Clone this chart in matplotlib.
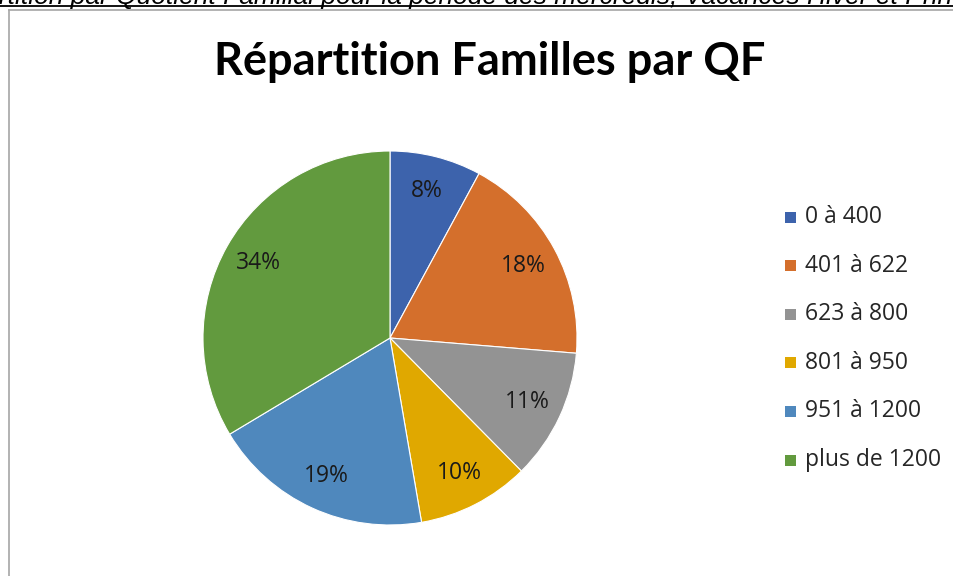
import matplotlib
matplotlib.use("Agg")
import matplotlib.pyplot as plt
from matplotlib.lines import Line2D
from matplotlib.patches import Rectangle

# ---- data ----
categories = ["0 à 400", "401 à 622", "623 à 800", "801 à 950", "951 à 1200", "plus de 1200"]
shares = [7.9, 18.4, 11.3, 9.7, 19.1, 33.6]
colors = ["#3D63AC", "#D46F2C", "#939393", "#E0A800", "#4F88BD", "#629A3E"]
chart_title = "Répartition Familles par QF"
header_text = ("Répartition par Quotient Familial pour la période des mercredis, "
               "Vacances Hiver et Printemps")

W, H = 954, 576
fig = plt.figure(figsize=(W / 100, H / 100), dpi=100)
fig.patch.set_facecolor("white")

def fx(px):
    return px / W

def fy(py):
    return 1 - py / H

# ---- clipped header text (document heading above the chart) ----
renderer = fig.canvas.get_renderer()
probe = fig.text(0, 0, "rtition par Quotient Familial pour la période des mercredis, Vacances Hiver et Prin",
                 fontsize=10, family="Liberation Sans", style="italic")
w10 = probe.get_window_extent(renderer).width
probe.remove()
hdr_size = 10 * (W + 4) / w10
probe2 = fig.text(0, 0, "Répa", fontsize=hdr_size, family="Liberation Sans", style="italic")
pre_w = probe2.get_window_extent(renderer).width
probe2.remove()
fig.text(fx(-pre_w - 1), fy(4.0), header_text, fontsize=hdr_size, family="Liberation Sans",
         style="italic", ha="left", va="baseline", color="black")
fig.add_artist(Line2D([0, 1], [fy(6.3), fy(6.3)], color="black", lw=1.3))

# ---- chart frame ----
fig.add_artist(Line2D([fx(9.5), fx(9.5)], [fy(9.5), 0], color="#A6A6A6", lw=1.2))
fig.add_artist(Line2D([fx(9.5), 1], [fy(9.5), fy(9.5)], color="#A6A6A6", lw=1.2))

# ---- title ----
fig.text(fx(490), fy(62), chart_title, fontsize=32.5, fontweight="bold", family="Lato",
         ha="center", va="center", color="black")

# ---- pie ----
cx, cy, r = 390, 338, 187
ax = fig.add_axes([fx(cx - r), fy(cy + r), (2 * r) / W, (2 * r) / H])
wedges, texts, autotexts = ax.pie(
    shares, colors=colors, startangle=90, counterclock=False,
    autopct="%.0f%%", pctdistance=0.81, radius=1,
    wedgeprops=dict(edgecolor="white", linewidth=0.8),
    textprops=dict(fontsize=16.5, family="Open Sans", color="#1a1a1a"))
ax.set_xlim(-1, 1)
ax.set_ylim(-1, 1)
ax.set_aspect("equal")
ax.axis("off")

# ---- legend ----
leg_y0 = 217
leg_dy = 48.6
for i, (lab, col) in enumerate(zip(categories, colors)):
    y = leg_y0 + i * leg_dy
    fig.add_artist(Rectangle((fx(785), fy(y + 5.5)), 11 / W, 11 / H, facecolor=col,
                             edgecolor="none", transform=fig.transFigure))
    fig.text(fx(805), fy(y), lab, fontsize=16.5, family="Open Sans", color="#262626",
             ha="left", va="center")

fig.savefig("out.png", dpi=100, facecolor="white")
